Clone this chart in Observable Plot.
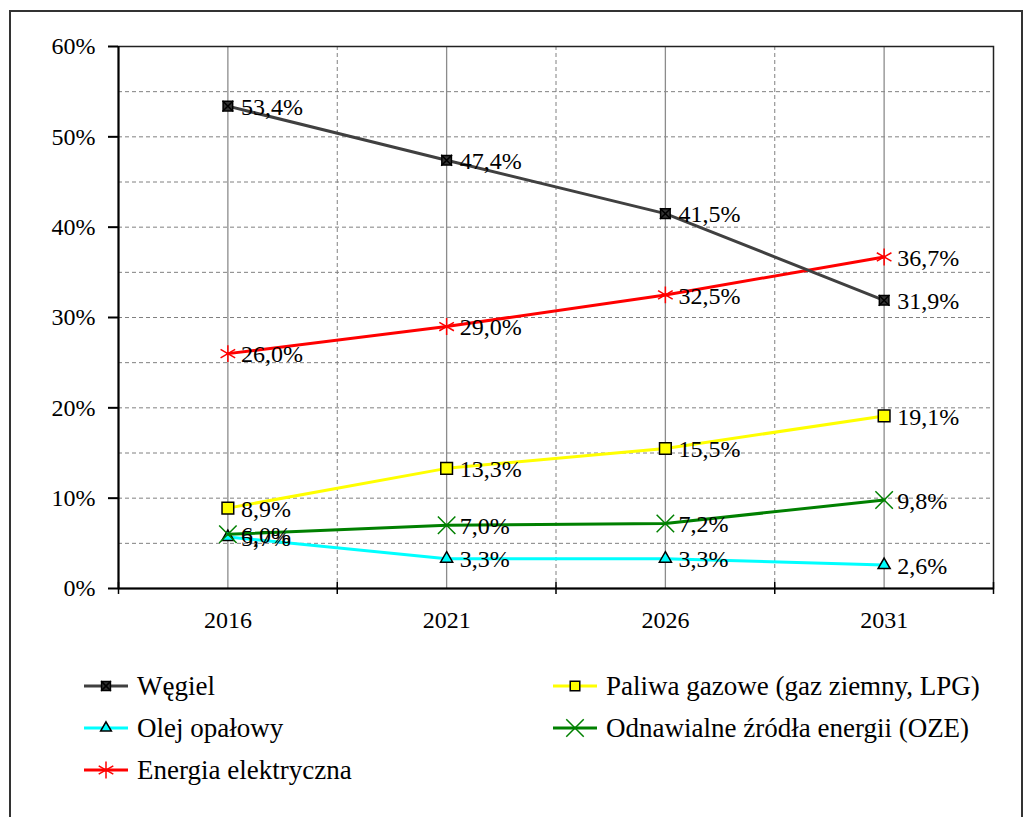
<!DOCTYPE html>
<html>
<head>
<meta charset="utf-8">
<script src="https://cdn.jsdelivr.net/npm/d3@7"></script>
<script src="https://cdn.jsdelivr.net/npm/@observablehq/plot@0.6"></script>
<style>
  html, body { margin: 0; padding: 0; background: #fff; }
  #wrap { position: relative; width: 1035px; height: 817px; overflow: hidden; font-family: 'Liberation Serif', 'Times New Roman', 'DejaVu Serif', serif; }
  #frame { position: absolute; left: 9px; top: 10px; width: 1014px; height: 820px; border: 2px solid #333; box-sizing: border-box; }
  #chart { position: absolute; left: 0; top: 0; }
  .leg { position: absolute; display: flex; align-items: center; font-size: 27px; color: #000; white-space: nowrap; font-family: 'Liberation Serif', 'Times New Roman', serif; }
  .leg svg { margin-right: 9px; }
</style>
</head>
<body>
<div id="wrap">
  <div id="frame"></div>
  <div id="chart"></div>
  <div id="legend"></div>
</div>
<script>
// ---- data ----
const years = [2016, 2021, 2026, 2031];
const wegiel = [53.4, 47.4, 41.5, 31.9];
const paliwa = [8.9, 13.3, 15.5, 19.1];
const olej = [5.7, 3.3, 3.3, 2.6];
const oze = [6.0, 7.0, 7.2, 9.8];
const energia = [26.0, 29.0, 32.5, 36.7];
const yTicks = [0, 10, 20, 30, 40, 50, 60];
const yGrid = [5, 10, 15, 20, 25, 30, 35, 40, 45, 50, 55];
const xBounds = [2013.5, 2018.5, 2023.5, 2028.5, 2033.5];

// ---- styles ----
const styles = {
  "Węgiel": {line: "#404040", symbol: "square", fill: "#333", stroke: "#000", r: 5.4, lr: 5, extra: "times"},
  "Paliwa gazowe (gaz ziemny, LPG)": {line: "#ffff00", symbol: "square", fill: "#ffff00", stroke: "#000", r: 6.6, lr: 5.4},
  "Olej opałowy": {line: "#00ffff", symbol: "triangle", fill: "#00ffff", stroke: "#000", r: 4.5, lr: 4},
  "Odnawialne źródła energii (OZE)": {line: "#008000", symbol: "times", fill: "none", stroke: "#008000", r: 8, lr: 8},
  "Energia elektryczna": {line: "#ff0000", symbol: "asterisk", fill: "none", stroke: "#ff0000", r: 8, lr: 8}
};
const valuesByName = {
  "Węgiel": wegiel,
  "Paliwa gazowe (gaz ziemny, LPG)": paliwa,
  "Olej opałowy": olej,
  "Odnawialne źródła energii (OZE)": oze,
  "Energia elektryczna": energia
};
const drawOrder = ["Olej opałowy", "Odnawialne źródła energii (OZE)", "Paliwa gazowe (gaz ziemny, LPG)", "Energia elektryczna", "Węgiel"];

const fmt = v => v.toFixed(1).replace(".", ",") + "%";
const FONT = "'Liberation Serif', 'Times New Roman', serif";

const marks = [
  Plot.ruleY(yGrid, {stroke: "#808080", strokeDasharray: "4,3", strokeWidth: 1}),
  Plot.ruleX(xBounds.slice(1, 4), {stroke: "#808080", strokeDasharray: "4,3", strokeWidth: 1}),
  Plot.ruleX(years, {stroke: "#8c8c8c", strokeWidth: 1.3}),
  Plot.frame({stroke: "#222", strokeWidth: 1.5}),
  Plot.ruleX([xBounds[0]], {stroke: "#000", strokeWidth: 2}),
  Plot.ruleY([0], {stroke: "#000", strokeWidth: 2}),
  Plot.ruleX(xBounds, {y1: -0.66, y2: 0.66, stroke: "#000", strokeWidth: 1.5}),
  Plot.axisY({ticks: yTicks, tickFormat: d => d + "%", tickSize: 10, tickPadding: 13, fontSize: 24, fontFamily: FONT, stroke: "#000", strokeWidth: 2, strokeOpacity: 1, fill: "#000", label: null}),
  Plot.axisX({ticks: years, tickFormat: d => String(d), tickSize: 0, tickPadding: 22, fontSize: 24, fontFamily: FONT, fill: "#000", label: null})
];

for (const name of drawOrder) {
  const st = styles[name];
  const data = years.map((y, i) => ({year: y, v: valuesByName[name][i]}));
  marks.push(Plot.line(data, {x: "year", y: "v", stroke: st.line, strokeWidth: 3}));
  marks.push(Plot.dot(data, {x: "year", y: "v", symbol: st.symbol, r: st.r, fill: st.fill, stroke: st.stroke, strokeWidth: 1.5}));
  if (st.extra) marks.push(Plot.dot(data, {x: "year", y: "v", symbol: st.extra, r: 5, stroke: "#000", strokeWidth: 1.5}));
  marks.push(Plot.text(data, {x: "year", y: "v", text: d => fmt(d.v), dx: 13, dy: 1, textAnchor: "start", fontSize: 24, fontFamily: FONT, fill: "#000"}));
}

const chart = Plot.plot({
  width: 1035,
  height: 650,
  marginLeft: 118,
  marginRight: 42,
  marginTop: 46,
  marginBottom: 62,
  x: {type: "linear", domain: [xBounds[0], xBounds[4]]},
  y: {domain: [0, 60]},
  style: {fontFamily: FONT, background: "transparent", color: "#000"},
  marks
});
document.getElementById("chart").appendChild(chart);

// ---- legend ----
const legendItems = [
  {name: "Węgiel", left: 84, top: 686},
  {name: "Paliwa gazowe (gaz ziemny, LPG)", left: 553, top: 686},
  {name: "Olej opałowy", left: 84, top: 728},
  {name: "Odnawialne źródła energii (OZE)", left: 553, top: 728},
  {name: "Energia elektryczna", left: 84, top: 770}
];
const symMap = {square: d3.symbolSquare, triangle: d3.symbolTriangle, times: d3.symbolTimes, asterisk: d3.symbolAsterisk};
const legend = d3.select("#legend");
for (const it of legendItems) {
  const st = styles[it.name];
  const div = legend.append("div").attr("class", "leg").style("left", it.left + "px").style("top", (it.top - 16) + "px").style("height", "32px");
  const svg = div.append("svg").attr("width", 44).attr("height", 30);
  svg.append("line").attr("x1", 0).attr("x2", 44).attr("y1", 15).attr("y2", 15).attr("stroke", st.line).attr("stroke-width", 3);
  svg.append("path").attr("transform", "translate(22,15)")
    .attr("d", d3.symbol(symMap[st.symbol], Math.PI * st.lr * st.lr)())
    .attr("fill", st.fill).attr("stroke", st.stroke).attr("stroke-width", 1.5);
  if (st.extra) svg.append("path").attr("transform", "translate(22,15)")
    .attr("d", d3.symbol(symMap[st.extra], Math.PI * 4.5 * 4.5)()).attr("fill", "none").attr("stroke", "#000").attr("stroke-width", 1.5);
  div.append("span").text(it.name);
}
</script>
</body>
</html>
